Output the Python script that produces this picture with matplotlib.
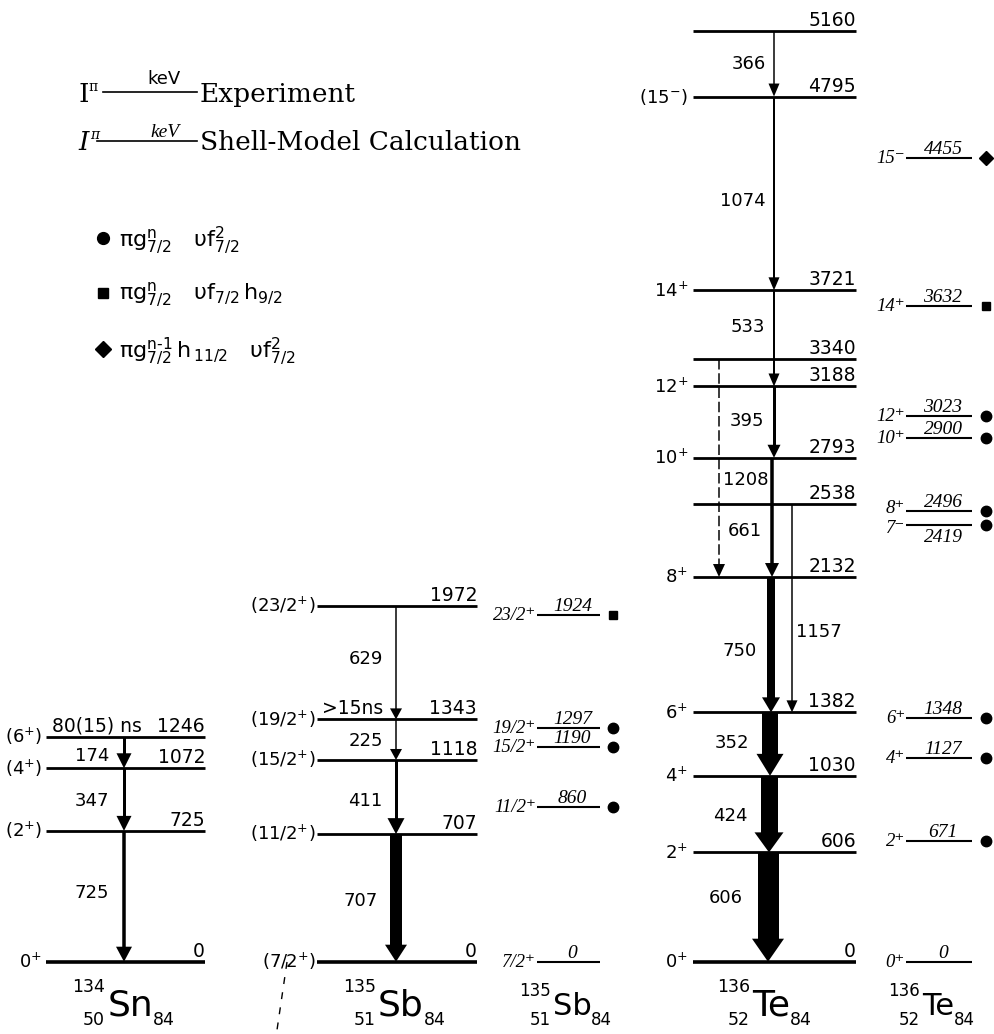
import matplotlib
matplotlib.use('Agg')
import matplotlib.pyplot as plt

# ---------------- data (energies in keV) ----------------
SN_LEVELS = [0, 725, 1072, 1246]
SN_SPINS = ['0$^{+}$', '(2$^{+}$)', '(4$^{+}$)', '(6$^{+}$)']
SN_GAMMA_FROM = [1246, 1072, 725]
SN_GAMMA_TO = [1072, 725, 0]
SN_GAMMA_LABELS = ['174', '347', '725']
SN_ISOMER = [1246, '80(15) ns']

SB_LEVELS = [0, 707, 1118, 1343, 1972]
SB_SPINS = ['(7/2$^{+}$)', '(11/2$^{+}$)', '(15/2$^{+}$)', '(19/2$^{+}$)', '(23/2$^{+}$)']
SB_GAMMA_FROM = [1972, 1343, 1118, 707]
SB_GAMMA_TO = [1343, 1118, 707, 0]
SB_GAMMA_LABELS = ['629', '225', '411', '707']
SB_ISOMER = [1343, '>15ns']

SB_CALC_LEVELS = [0, 860, 1190, 1297, 1924]
SB_CALC_SPINS = ['7/2⁺', '11/2⁺', '15/2⁺', '19/2⁺', '23/2⁺']
SB_CALC_CONFIG = ['', 'a', 'a', 'a', 'b']

TE_LEVELS = [0, 606, 1030, 1382, 2132, 2538, 2793, 3188, 3340, 3721, 4795, 5160]
TE_SPINS = ['0$^{+}$', '2$^{+}$', '4$^{+}$', '6$^{+}$', '8$^{+}$', '', '10$^{+}$',
            '12$^{+}$', '', '14$^{+}$', '(15$^{-}$)', '']
TE_GAMMA_FROM = [5160, 4795, 3721, 3340, 3188, 2793, 2538, 2132, 1382, 1030, 606]
TE_GAMMA_TO = [4795, 3721, 3188, 2132, 2793, 2132, 1382, 1382, 1030, 606, 0]
TE_GAMMA_LABELS = ['366', '1074', '533', '1208', '395', '661', '1157', '750', '352', '424', '606']

TE_CALC_LEVELS = [0, 671, 1127, 1348, 2419, 2496, 2900, 3023, 3632, 4455]
TE_CALC_SPINS = ['0⁺', '2⁺', '4⁺', '6⁺', '7⁻', '8⁺', '10⁺', '12⁺', '14⁺', '15⁻']
TE_CALC_CONFIG = ['', 'a', 'a', 'a', 'a', 'a', 'a', 'a', 'b', 'c']

CONFIG_KEYS = ['a', 'b', 'c']
CONFIG_LABELS = [r'$\pi g^{n}_{7/2}\quad\upsilon f^{2}_{7/2}$',
                 r'$\pi g^{n}_{7/2}\quad\upsilon f_{7/2}\,h_{9/2}$',
                 r'$\pi g^{n‐1}_{7/2}\,h_{\,11/2}\quad\upsilon f^{2}_{7/2}$']

# ---------------- layout / style ----------------
W, H = 995, 1034
Y0_PX = 961.7          # pixel row of the 0 keV level
PX_PER_KEV = 0.18043
CONFIG_MARKERS = {'a': ('o', 7.5), 'b': ('s', 6), 'c': ('D', 7)}
SPIN_NUDGE = {2496: 3, 2419: -3}   # pixels, to keep crowded labels apart

SANS = 'DejaVu Sans'
SERIF = 'DejaVu Serif'
SERIF_IT = 'Liberation Serif'

TE_STYLE = dict(
    x=[774, 774, 774, 719, 774, 772, 792, 771, 770, 769, 768],
    width=[1.5, 2, 2, 1.5, 3, 3.5, 1.5, 8, 16, 17, 21],
    head_w=[11, 11, 11, 12, 13, 14, 11, 18, 27, 29, 32],
    head_l=[13, 13, 13, 13, 13, 14, 12, 15, 22, 20, 23],
    dashed=[False, False, False, True, False, False, False, False, False, False, False],
    side=['l', 'l', 'l', 'r', 'l', 'l', 'r', 'l', 'l', 'l', 'l'],
    label_e=[4978, 4218, 3520, 2672, 2999, 2389, 1830, 1724, 1214, 810, 355],
)
SN_STYLE = dict(x=[124] * 3, width=[3, 3, 3.5], head_w=[15, 15, 16], head_l=[15, 15, 15],
                dashed=[False] * 3, side=['l'] * 3, label_e=[1142, 892, 382])
SB_STYLE = dict(x=[396] * 4, width=[1.5, 1.5, 3, 12], head_w=[12, 12, 17, 22],
                head_l=[11, 11, 16, 17], dashed=[False] * 4, side=['l'] * 4,
                label_e=[1680, 1225, 892, 338])


def px2kev(y_px):
    return (Y0_PX - y_px) / PX_PER_KEV


def setup_plot_style():
    plt.rcParams['font.family'] = [SANS]
    plt.rcParams['mathtext.fontset'] = 'dejavusans'
    plt.rcParams['mathtext.default'] = 'regular'


def draw_levels(ax, levels, spins, x0, x1, spin_gap=4, lw=2.0):
    for e, s in zip(levels, spins):
        ax.plot([x0, x1], [e, e], color='black', lw=lw + (0.6 if e == 0 else 0),
                solid_capstyle='butt')
        ax.annotate(str(e), xy=(x1, e), xytext=(0, 5), textcoords='offset pixels',
                    ha='right', va='baseline', fontsize=13.5)
        if s:
            ax.annotate(s, xy=(x0, e), xytext=(-spin_gap, -6), textcoords='offset pixels',
                        ha='right', va='baseline', fontsize=13)


def draw_gammas(ax, e_from, e_to, labels, st, gap=12):
    for i, (ef, et, lab) in enumerate(zip(e_from, e_to, labels)):
        x = st['x'][i]
        w = st['width'][i]
        hw = st['head_w'][i]
        hl = st['head_l'][i] / PX_PER_KEV
        ls = (0, (7, 2.5)) if st['dashed'][i] else '-'
        ax.plot([x, x], [ef, et + hl * 0.9], color='black', lw=w * 0.72,
                ls=ls, solid_capstyle='butt')
        ax.fill([x - hw / 2, x + hw / 2, x], [et + hl, et + hl, et],
                color='black', lw=0)
        if st['side'][i] == 'l':
            g = gap if gap is not None else 7 + 0.35 * w
            ax.text(x - w / 2 - g, st['label_e'][i], lab, ha='right', va='center',
                    fontsize=13)
        else:
            ax.text(x + 4, st['label_e'][i], lab, ha='left', va='center', fontsize=13)


def draw_calc(ax, levels, spins, configs, x0, x1, xm, below=()):
    fam = [SERIF_IT, 'DejaVu Serif']
    for e, s, c in zip(levels, spins, configs):
        ax.plot([x0, x1], [e, e], color='black', lw=1.5, solid_capstyle='butt')
        if e in below:
            ax.annotate(str(e), xy=((x0 + x1) / 2 + 4, e), xytext=(0, -4),
                        textcoords='offset pixels', ha='center', va='top',
                        fontsize=14, family=fam, style='italic')
        else:
            ax.annotate(str(e), xy=((x0 + x1) / 2 + 4, e), xytext=(0, 4),
                        textcoords='offset pixels', ha='center', va='baseline',
                        fontsize=14, family=fam, style='italic')
        ax.annotate(s, xy=(x0, e), xytext=(-1, -5 + SPIN_NUDGE.get(e, 0)),
                    textcoords='offset pixels', ha='right', va='baseline',
                    fontsize=13.5, family=fam, style='italic')
        if c:
            m, ms = CONFIG_MARKERS[c]
            ax.plot(xm, e, marker=m, ms=ms, color='black', ls='none')


def nucleus(ax, x, y, a, z, n, sym, size=26, small=12.5):
    t = ax.text(x, y, sym, ha='center', va='baseline', fontsize=size)
    ax.annotate(a, xy=(0, y - 0.88 * size), xycoords=(t, 'data'), xytext=(-2, 0),
                textcoords='offset pixels', ha='right', va='baseline', fontsize=small)
    ax.annotate(z, xy=(0, y + 10), xycoords=(t, 'data'), xytext=(-2, 0),
                textcoords='offset pixels', ha='right', va='baseline', fontsize=small)
    ax.annotate(n, xy=(1, y + 10), xycoords=(t, 'data'), xytext=(0, 0),
                textcoords='offset pixels', ha='left', va='baseline', fontsize=small)


def draw_legend(axp):
    axp.text(79, 102, 'I', family=SERIF, fontsize=19, va='baseline')
    axp.text(88, 91, 'π', family=SERIF, fontsize=10, va='baseline')
    axp.plot([103, 197], [92, 92], color='black', lw=1.2)
    axp.text(164, 84, 'keV', fontsize=13, ha='center', va='baseline')
    axp.text(200, 102, 'Experiment', family=SERIF, fontsize=19, va='baseline')

    axp.text(78, 150, 'I', family=SERIF, fontsize=19, style='italic', va='baseline')
    axp.text(90, 139, 'π', family=SERIF, fontsize=10, style='italic', va='baseline')
    axp.plot([97, 197], [141, 141], color='black', lw=1.2)
    axp.text(165, 137, 'keV', family=SERIF_IT, style='italic', fontsize=14,
             ha='center', va='baseline')
    axp.text(200, 150, 'Shell-Model Calculation', family=SERIF, fontsize=19,
             va='baseline')

    for k, lab, y in zip(CONFIG_KEYS, CONFIG_LABELS, [238, 293, 349]):
        m, ms = CONFIG_MARKERS[k]
        axp.plot(103, y, marker=m, ms=ms + 1, color='black', ls='none')
        axp.text(119, y + 2, lab, fontsize=16, va='center', ha='left')


def main():
    setup_plot_style()
    fig = plt.figure(figsize=(W / 100, H / 100), dpi=100)
    ax = fig.add_axes([0, 0, 1, 1])
    ax.set_xlim(0, W)
    ax.set_ylim(px2kev(H), px2kev(0))
    ax.axis('off')

    # 134Sn
    draw_levels(ax, SN_LEVELS, SN_SPINS, 46, 205)
    draw_gammas(ax, SN_GAMMA_FROM, SN_GAMMA_TO, SN_GAMMA_LABELS, SN_STYLE, gap=13)
    ax.annotate(SN_ISOMER[1], xy=(52, SN_ISOMER[0]), xytext=(0, 5),
                textcoords='offset pixels', va='baseline', fontsize=13.5)

    # 135Sb experiment + calculation
    draw_levels(ax, SB_LEVELS, SB_SPINS, 317, 477, spin_gap=1)
    draw_gammas(ax, SB_GAMMA_FROM, SB_GAMMA_TO, SB_GAMMA_LABELS, SB_STYLE, gap=12)
    ax.annotate(SB_ISOMER[1], xy=(322, SB_ISOMER[0]), xytext=(0, 5),
                textcoords='offset pixels', va='baseline', fontsize=13.5)
    draw_calc(ax, SB_CALC_LEVELS, SB_CALC_SPINS, SB_CALC_CONFIG, 537, 600, 613)

    # 136Te experiment + calculation
    draw_levels(ax, TE_LEVELS, TE_SPINS, 693, 856, spin_gap=5)
    draw_gammas(ax, TE_GAMMA_FROM, TE_GAMMA_TO, TE_GAMMA_LABELS, TE_STYLE, gap=None)
    draw_calc(ax, TE_CALC_LEVELS, TE_CALC_SPINS, TE_CALC_CONFIG, 906, 972, 986,
              below=(2419,))

    # overlay in pixel coordinates for legend and nucleus names
    axp = fig.add_axes([0, 0, 1, 1])
    axp.set_xlim(0, W)
    axp.set_ylim(H, 0)
    axp.axis('off')
    draw_legend(axp)
    axp.plot([287, 277], [962, 1030], color='black', lw=1, ls=(0, (5, 6)))

    nucleus(axp, 130, 1015, '134', '50', '84', 'Sn')
    nucleus(axp, 401, 1015, '135', '51', '84', 'Sb')
    nucleus(axp, 572, 1015, '135', '51', '84', 'Sb', size=22, small=12)
    nucleus(axp, 771, 1015, '136', '52', '84', 'Te')
    nucleus(axp, 938, 1015, '136', '52', '84', 'Te', size=22, small=12)

    plt.savefig('out.png', dpi=100)


if __name__ == '__main__':
    main()
